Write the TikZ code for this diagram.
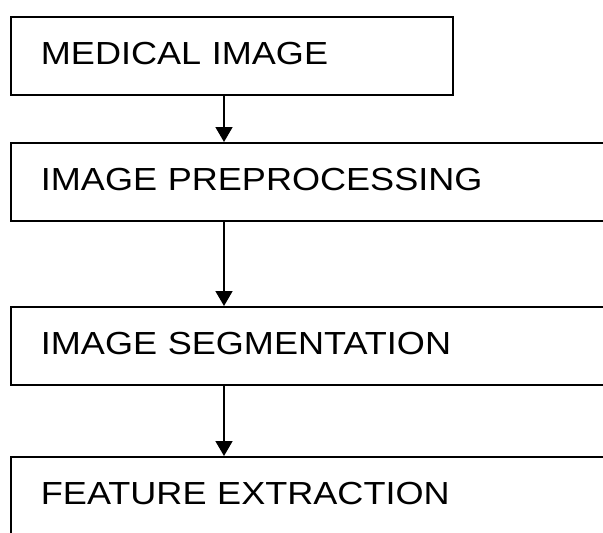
\documentclass[tikz,border=0pt]{standalone}
\usepackage{fontspec}
\setmainfont{Liberation Sans}[FakeStretch=1.13]
\usetikzlibrary{arrows.meta}

\begin{document}
\begin{tikzpicture}[x=0.025cm, y=-0.025cm, font=\fontsize{22.7}{27}\selectfont,
    stage/.style={draw, line width=1.3pt, anchor=north west, align=left,
        inner xsep=0.75cm, inner ysep=0pt, text height=1.18cm, text depth=0.77cm},
    flow/.style={-{Triangle[length=0.37cm, width=0.42cm]}, line width=1.1pt}]

\clip (0,0) rectangle (603,532);

\node[stage, text width=9.55cm] (medimg) at (10,16) {MEDICAL IMAGE};
\node[stage, text width=14.5cm] (preproc) at (10,142) {IMAGE PREPROCESSING};
\node[stage, text width=14.5cm] (segment) at (10,306) {IMAGE SEGMENTATION};
\node[stage, text width=14.5cm] (feature) at (10,456) {FEATURE EXTRACTION};

% arrows run down one line
\coordinate (spine) at (224,0);
\draw[flow] (medimg.south -| spine) -- (preproc.north -| spine);
\draw[flow] (preproc.south -| spine) -- (segment.north -| spine);
\draw[flow] (segment.south -| spine) -- (feature.north -| spine);

\end{tikzpicture}
\end{document}
